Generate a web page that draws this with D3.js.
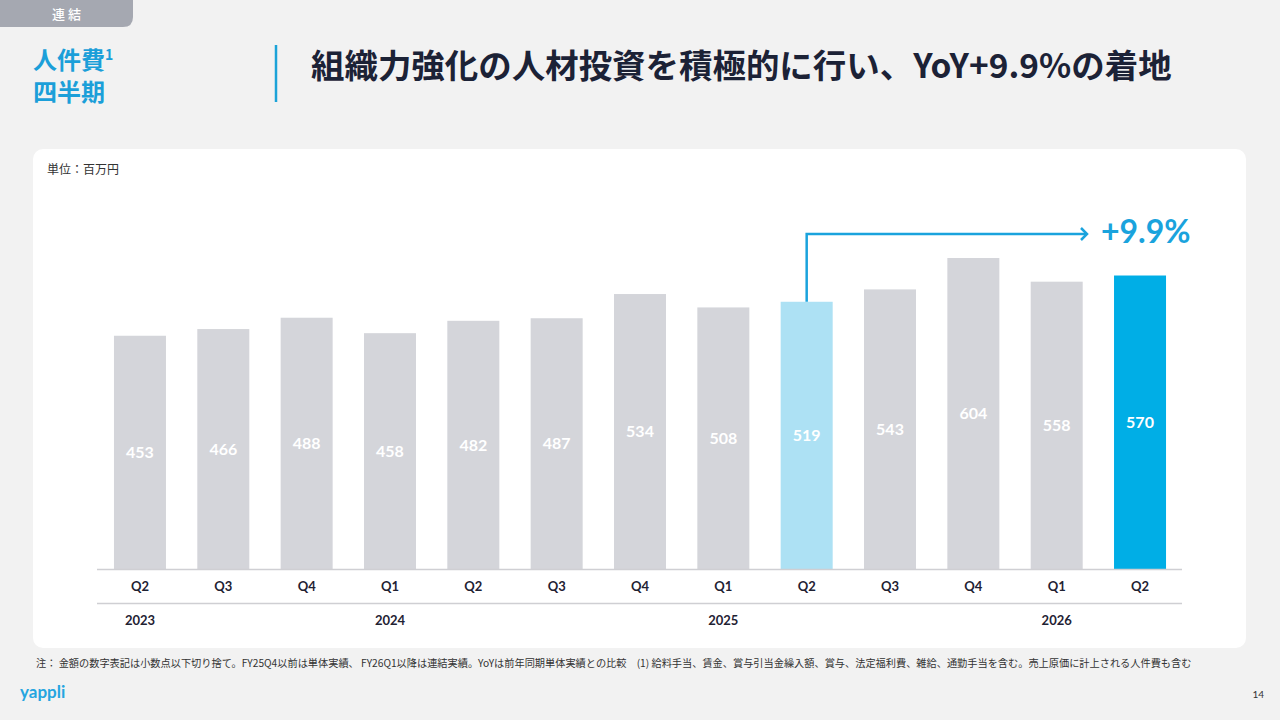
<!DOCTYPE html>
<meta charset="utf-8">
<html>
<head>
  <script src="https://d3js.org/d3.v7.min.js" charset="utf-8"></script>
  <style>
    body { margin: 0; background-color: #f2f2f2; }
    svg { display: block; }
    .jp { font-family: 'Noto Sans CJK JP', sans-serif; }
    .num { font-family: 'Lato', 'Noto Sans', sans-serif; }
    .x-axis path { stroke: #cfcfd3; stroke-width: 1.5; }
    .x-axis text { font-family: 'Lato', sans-serif; font-weight: 700; font-size: 13px; fill: #1f2233; }
  </style>
</head>
<body>
<script>
  // Data
  var categories = ["2023Q2", "2023Q3", "2023Q4", "2024Q1", "2024Q2", "2024Q3", "2024Q4",
                    "2025Q1", "2025Q2", "2025Q3", "2025Q4", "2026Q1", "2026Q2"];
  var quarterLabels = ["Q2", "Q3", "Q4", "Q1", "Q2", "Q3", "Q4", "Q1", "Q2", "Q3", "Q4", "Q1", "Q2"];
  var values = [453, 466, 488, 458, 482, 487, 534, 508, 519, 543, 604, 558, 570];
  var yearLabels = ["2023", "2024", "2025", "2026"];
  var yearAt = ["2023Q2", "2024Q1", "2025Q1", "2026Q1"];
  var prevCat = "2025Q2", currCat = "2026Q2";
  var yoyLabel = "+9.9%";

  var W = 1280, H = 720;
  var svg = d3.select("body").append("svg").attr("width", W).attr("height", H);

  // Background
  svg.append("rect").attr("width", W).attr("height", H).attr("fill", "#f2f2f2");

  // Tab "連結"
  svg.append("path")
    .attr("d", "M0,0 H133 V17 Q133,27 123,27 H0 Z")
    .attr("fill", "#a5a8b1");
  svg.append("text").attr("class", "jp")
    .attr("x", 68).attr("y", 19)
    .attr("text-anchor", "middle")
    .attr("font-size", 13).attr("font-weight", 500)
    .attr("letter-spacing", 3)
    .attr("fill", "#fff").text("連結");

  // Left headline
  var head = svg.append("text").attr("class", "jp")
    .attr("x", 33).attr("y", 69)
    .attr("font-size", 24).attr("font-weight", 700).attr("fill", "#1b9fd9");
  head.append("tspan").text("人件費");
  head.append("tspan").attr("font-size", 14).attr("dy", -9).text("1");
  svg.append("text").attr("class", "jp")
    .attr("x", 33).attr("y", 101)
    .attr("font-size", 24).attr("font-weight", 700).attr("fill", "#1b9fd9")
    .text("四半期");

  // Separator
  svg.append("line")
    .attr("x1", 276).attr("x2", 276).attr("y1", 45).attr("y2", 102)
    .attr("stroke", "#1ba3d8").attr("stroke-width", 2.5);

  // Title, sized to span the same width as the slide
  var title = svg.append("text").attr("class", "jp")
    .attr("x", 311).attr("y", 78)
    .attr("font-size", 32).attr("font-weight", 700).attr("fill", "#1c2236")
    .text("組織力強化の人材投資を積極的に行い、YoY+9.9%の着地");
  var tw = title.node().getComputedTextLength();
  title.attr("font-size", 32 * 861 / tw);

  // Card
  svg.append("rect")
    .attr("x", 33).attr("y", 149).attr("width", 1213).attr("height", 499)
    .attr("rx", 10).attr("fill", "#fff");

  svg.append("text").attr("class", "jp")
    .attr("x", 47).attr("y", 174)
    .attr("font-size", 12).attr("fill", "#333")
    .text("単位：百万円");

  // Scales
  var x = d3.scaleBand()
    .domain(categories)
    .range([98.3, 1181.7])
    .paddingInner(0.376)
    .paddingOuter(0.188);

  var base = 569;
  var y = d3.scaleLinear()
    .domain([0, 604])
    .range([base, 258]);

  function barColor(c) {
    if (c === currCat) return "#00aee6";
    if (c === prevCat) return "#ade1f4";
    return "#d4d5da";
  }

  var data = categories.map((c, i) => ({ cat: c, q: quarterLabels[i], v: values[i] }));

  // Bars
  svg.selectAll(".bar")
    .data(data)
    .enter()
    .append("rect")
    .attr("class", "bar")
    .attr("x", d => x(d.cat))
    .attr("width", x.bandwidth())
    .attr("y", d => y(d.v))
    .attr("height", d => base - y(d.v))
    .attr("fill", d => barColor(d.cat));

  // Value labels (middle of bar)
  svg.selectAll(".val")
    .data(data)
    .enter()
    .append("text")
    .attr("class", "num")
    .attr("x", d => x(d.cat) + x.bandwidth() / 2)
    .attr("y", d => (y(d.v) + base) / 2)
    .attr("dy", "0.35em")
    .attr("text-anchor", "middle")
    .attr("font-size", 16).attr("font-weight", 700)
    .attr("fill", "#fff")
    .text(d => d.v);

  // Quarter axis
  svg.append("g")
    .attr("class", "x-axis")
    .attr("transform", `translate(0, ${base})`)
    .call(d3.axisBottom(x)
      .tickSize(0)
      .tickPadding(13)
      .tickFormat((d, i) => quarterLabels[i]));
  svg.select(".x-axis .domain").attr("d", "M97,0.5H1182");

  // Year row
  svg.append("line")
    .attr("x1", 97).attr("x2", 1182).attr("y1", 603.5).attr("y2", 603.5)
    .attr("stroke", "#cfcfd3").attr("stroke-width", 1.5);
  svg.selectAll(".year")
    .data(yearLabels)
    .enter()
    .append("text")
    .attr("class", "num")
    .attr("x", (d, i) => x(yearAt[i]) + x.bandwidth() / 2)
    .attr("y", 625)
    .attr("text-anchor", "middle")
    .attr("font-size", 13).attr("font-weight", 700)
    .attr("fill", "#1f2233")
    .text(d => d);

  // YoY arrow
  var ax = x(prevCat) + x.bandwidth() / 2;
  var ay = 234, aEnd = 1087;
  svg.append("path")
    .attr("d", `M${ax},${y(values[categories.indexOf(prevCat)])} V${ay} H${aEnd}`)
    .attr("fill", "none").attr("stroke", "#1aa3dd").attr("stroke-width", 2.5);
  svg.append("path")
    .attr("d", `M${aEnd - 6},${ay - 6} L${aEnd},${ay} L${aEnd - 6},${ay + 6}`)
    .attr("fill", "none").attr("stroke", "#1aa3dd").attr("stroke-width", 2.5);
  svg.append("text").attr("class", "num")
    .attr("x", 1101).attr("y", 243)
    .attr("font-size", 32).attr("font-weight", 700)
    .attr("fill", "#1aa3dd")
    .text(yoyLabel);

  // Footnote
  var note = svg.append("text").attr("class", "jp")
    .attr("x", 36).attr("y", 667)
    .attr("font-size", 10).attr("fill", "#333")
    .text("注： 金額の数字表記は小数点以下切り捨て。FY25Q4以前は単体実績、 FY26Q1以降は連結実績。YoYは前年同期単体実績との比較　(1) 給料手当、賃金、賞与引当金繰入額、賞与、法定福利費、雑給、通勤手当を含む。売上原価に計上される人件費も含む");
  var nw = note.node().getComputedTextLength();
  note.attr("font-size", 10 * 1157 / nw);

  // Logo and page number
  svg.append("text").attr("class", "num")
    .attr("x", 20).attr("y", 698)
    .attr("font-size", 17).attr("font-weight", 700)
    .attr("fill", "#25a5e0")
    .text("yappli");
  svg.append("text").attr("class", "num")
    .attr("x", 1264).attr("y", 698)
    .attr("text-anchor", "end")
    .attr("font-size", 10).attr("fill", "#333")
    .text("14");
</script>
</body>
</html>
